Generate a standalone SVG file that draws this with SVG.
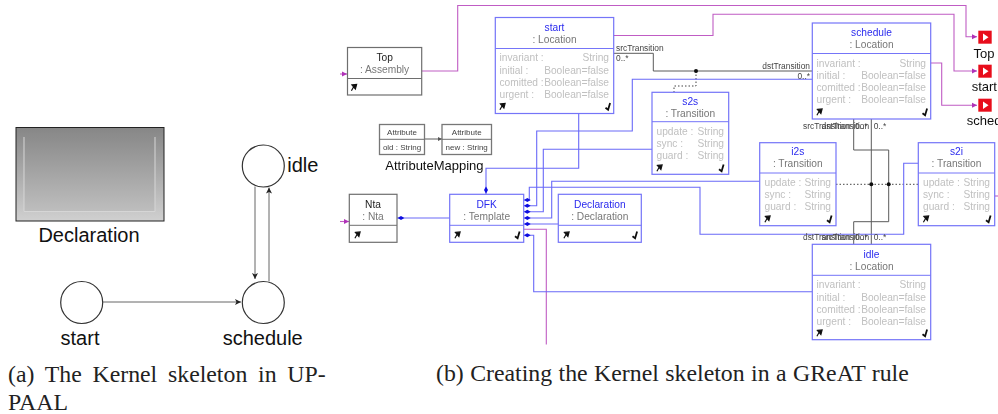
<svg xmlns="http://www.w3.org/2000/svg" width="998" height="414" viewBox="0 0 998 414">
<style>
text{font-family:"Liberation Sans",Arial,sans-serif}
.box{fill:#fff;stroke:#7474f8;stroke-width:1.2}
.gbox{fill:#fff;stroke:#6e6e6e;stroke-width:1.2}
.div{stroke:#7474f8;stroke-width:1;fill:none}
.gdiv{stroke:#6e6e6e;stroke-width:1;fill:none}
.t{font-size:10.2px;fill:#2a2aee;text-anchor:middle}
.tk{font-size:10.2px;fill:#222;text-anchor:middle}
.s{font-size:10.2px;fill:#777;text-anchor:middle}
.a{font-size:10.2px;fill:#c0c0c0}
.r{text-anchor:end}
.lbl{font-size:8.4px;fill:#444}
.bl{fill:none;stroke:#6a6af8;stroke-width:1.1}
.gl{fill:none;stroke:#5a5a5a;stroke-width:1}
.ml{fill:none;stroke:#c05cc4;stroke-width:1.1}
.dot{fill:none;stroke:#444;stroke-width:1;stroke-dasharray:1.5 2}
.big{font-size:13px;fill:#111}
.cap{font-family:"Liberation Serif","Times New Roman",serif;font-size:23.8px;fill:#222}
.la{font-size:20px;fill:#111}
.cir{fill:#fff;stroke:#333;stroke-width:1.2}
.ed{fill:none;stroke:#666;stroke-width:1}
.port{fill:#e8101c}
.at{font-size:8px;fill:#444;text-anchor:middle}
.ab{fill:#fff;stroke:#777;stroke-width:1.3}
</style>
<defs>
<linearGradient id="gr" x1="0" y1="0" x2="0" y2="1"><stop offset="0" stop-color="#8c8c8c"/><stop offset="1" stop-color="#bebebe"/></linearGradient>
<linearGradient id="fr" x1="0" y1="0" x2="0" y2="1"><stop offset="0" stop-color="#868686"/><stop offset="1" stop-color="#d0d0d0"/></linearGradient>
<filter id="soft" x="0" y="0" width="100%" height="100%"><feGaussianBlur stdDeviation="0.35"/></filter>
<path id="ne" d="M-2.6 3.2 L-.6-.2 M-2-2.6 L2.6-3 L1.4 1.4 Z" fill="#111" stroke="#111" stroke-width="1.2"/>
<path id="ck" d="M-3 1.2 L-.4 3.2 L1.6-3.6" fill="none" stroke="#111" stroke-width="1.8"/>
<polygon id="dh" points="-3.4,0 0,-2 3.4,0 0,2" fill="#1010e0"/>
<polygon id="dv" points="0,-3.4 2,0 0,3.4 -2,0" fill="#1010e0"/>
<marker id="ma" markerWidth="6" markerHeight="6" refX="5" refY="3" orient="auto" markerUnits="userSpaceOnUse"><path d="M0 .5 L5 3 L0 5.5 Z" fill="#b030b8"/></marker>
<marker id="ka" markerWidth="8" markerHeight="8" refX="6" refY="4" orient="auto" markerUnits="userSpaceOnUse"><path d="M0 1 L6 4 L0 7 L1.5 4 Z" fill="#222"/></marker>
<marker id="ga" markerWidth="5" markerHeight="5" refX="4" refY="2.5" orient="auto" markerUnits="userSpaceOnUse"><path d="M0 .5 L4 2.5 L0 4.5 Z" fill="#555"/></marker>
</defs>
<rect width="998" height="414" fill="#fff"/>

<g id="declaration-a">
<rect x="16" y="127.5" width="148" height="93.5" fill="url(#fr)" stroke="#222" stroke-width="1"/>
<rect x="24" y="136.5" width="131" height="75" fill="url(#gr)"/>
<path d="M24 137V211.5H155V137" fill="none" stroke="#d6d6d6" stroke-width="1"/>
<text class="la" x="89" y="241.5" text-anchor="middle">Declaration</text>
</g>
<g id="loc-idle"><circle class="cir" cx="263.3" cy="166" r="21"/><text class="la" x="287.3" y="171.5">idle</text></g>
<g id="loc-schedule"><circle class="cir" cx="263.3" cy="302.5" r="21"/><text class="la" x="262.7" y="345" text-anchor="middle">schedule</text></g>
<g id="loc-start"><circle class="cir" cx="81.7" cy="302.5" r="21"/><text class="la" x="80" y="345" text-anchor="middle">start</text></g>
<g id="uppaal-connectors">
<path class="ed" d="M103 302H241" marker-end="url(#ka)"/>
<path class="ed" d="M255 186.5V279" marker-end="url(#ka)"/>
<path class="ed" d="M269 281.5V187.5" marker-end="url(#ka)"/>
</g>
<text class="cap" x="8" y="381.5" style="word-spacing:4.8px">(a) The Kernel skeleton in UP-</text>
<text class="cap" x="8" y="410">PAAL</text>
<text class="cap" x="436" y="381" style="word-spacing:.5px">(b) Creating the Kernel skeleton in a GReAT rule</text>

<g id="rule" filter="url(#soft)">
<g id="connectors">
<path class="ml" d="M340 74H347" marker-end="url(#ma)"/>
<path class="ml" d="M340 221.5H349" marker-end="url(#ma)"/>
<path class="ml" d="M421.7 71H457.7V5.5H966V36.7H977" marker-end="url(#ma)"/>
<path class="ml" d="M613.7 35.5H713V14.3H954V71H977" marker-end="url(#ma)"/>
<path class="ml" d="M930.7 63H941.7V105.3H977" marker-end="url(#ma)"/>
<path class="ml" d="M523.7 229.3H546.3V344.5"/>
<path class="ml" d="M994.7 196H998"/>
<path class="gl" d="M613.7 53.3H653.3V71H812.3"/>
<path class="gl" d="M853.7 119V150H888.7V221.7H853.7V244.3"/>
<path class="gl" d="M871.3 119V244.3"/>
<path class="dot" d="M696 71V86H674V92.3"/>
<path class="dot" d="M836 184.3H918.3"/>
<circle cx="696" cy="71" r="2" fill="#111"/>
<circle cx="871.3" cy="184.3" r="2" fill="#111"/>
<circle cx="888.7" cy="184.3" r="2" fill="#111"/>
<path class="bl" d="M523.7 200H529.3V187.3H700V234.3H903.7V163.3H918.3"/>
<path class="bl" d="M523.7 205.7H536.7V131H632.3V79.3H812.3"/>
<path class="bl" d="M523.7 211.7H543.3V149.3H652"/>
<path class="bl" d="M523.7 218H551.7V181.3H759.7"/>
<path class="bl" d="M523.7 224H558.3"/>
<path class="bl" d="M523.7 235.3H533.7V291.7H812.3"/>
<path class="bl" d="M486 194V168.3H578.7V113.3"/>
<path class="bl" d="M397 218H449.7"/>
<path class="gl" d="M424.7 139H442" marker-end="url(#ga)"/>
<use href="#dh" x="527.3" y="200"/><use href="#dh" x="527.3" y="205.7"/><use href="#dh" x="527.3" y="211.7"/><use href="#dh" x="527.3" y="218"/><use href="#dh" x="527.3" y="224"/><use href="#dh" x="527.3" y="235.3"/>
<use href="#dh" x="401" y="218"/>
<use href="#dv" x="486" y="190"/>
<text class="lbl" x="616" y="51">srcTransition</text>
<text class="lbl" x="616" y="60.5">0..*</text>
<text class="lbl r" x="810" y="69">dstTransition</text>
<text class="lbl r" x="810" y="79">0..*</text>
<text class="lbl" x="803" y="128.5">srcTransition</text>
<text class="lbl" x="821.5" y="128.5">dstTransition</text>
<text class="lbl" x="855" y="128.5">0..*</text>
<text class="lbl" x="873.7" y="128.5">0..*</text>
<text class="lbl" x="803" y="239.5">dstTransition</text>
<text class="lbl" x="821.5" y="239.5">srcTransition</text>
<text class="lbl" x="855" y="239.5">0..*</text>
<text class="lbl" x="873.7" y="239.5">0..*</text>
</g>

<g id="node-top">
<rect class="gbox" x="347.5" y="47.5" width="74.2" height="47.5"/><path class="gdiv" d="M347.5 78.5H421.7"/>
<text class="tk" x="384.6" y="60.5">Top</text><text class="s" x="384.6" y="72.5">: Assembly</text>
<use href="#ne" x="354" y="87.5"/>
</g>
<g id="node-start">
<rect class="box" x="495.3" y="17.5" width="118.4" height="96"/><path class="div" d="M495.3 48.5H613.7"/>
<text class="t" x="554.5" y="30.5">start</text><text class="s" x="554.5" y="42.5">: Location</text>
<text class="a" x="499.5" y="61">invariant :</text><text class="a r" x="609" y="61">String</text>
<text class="a" x="499.5" y="73.5">initial :</text><text class="a r" x="609" y="73.5">Boolean=false</text>
<text class="a" x="499.5" y="85.5">comitted :</text><text class="a r" x="609" y="85.5">Boolean=false</text>
<text class="a" x="499.5" y="97.5">urgent :</text><text class="a r" x="609" y="97.5">Boolean=false</text>
<use href="#ne" x="502.5" y="106.5"/><use href="#ck" x="608.5" y="106.5"/>
</g>
<g id="node-schedule">
<rect class="box" x="812.3" y="23" width="118.4" height="96"/><path class="div" d="M812.3 53.5H930.7"/>
<text class="t" x="871.5" y="36">schedule</text><text class="s" x="871.5" y="48">: Location</text>
<text class="a" x="816.5" y="66.5">invariant :</text><text class="a r" x="926" y="66.5">String</text>
<text class="a" x="816.5" y="79">initial :</text><text class="a r" x="926" y="79">Boolean=false</text>
<text class="a" x="816.5" y="91">comitted :</text><text class="a r" x="926" y="91">Boolean=false</text>
<text class="a" x="816.5" y="103">urgent :</text><text class="a r" x="926" y="103">Boolean=false</text>
<use href="#ne" x="819.5" y="112"/><use href="#ck" x="925.5" y="112"/>
</g>
<g id="node-idle">
<rect class="box" x="812.3" y="244.3" width="118.4" height="95.4"/><path class="div" d="M812.3 275.3H930.7"/>
<text class="t" x="871.5" y="257.5">idle</text><text class="s" x="871.5" y="269.5">: Location</text>
<text class="a" x="816.5" y="288">invariant :</text><text class="a r" x="926" y="288">String</text>
<text class="a" x="816.5" y="300.5">initial :</text><text class="a r" x="926" y="300.5">Boolean=false</text>
<text class="a" x="816.5" y="312.5">comitted :</text><text class="a r" x="926" y="312.5">Boolean=false</text>
<text class="a" x="816.5" y="324.5">urgent :</text><text class="a r" x="926" y="324.5">Boolean=false</text>
<use href="#ne" x="819.5" y="333"/><use href="#ck" x="925.5" y="333"/>
</g>
<g id="node-s2s">
<rect class="box" x="652" y="92.3" width="76.7" height="82"/><path class="div" d="M652 121.7H728.7"/>
<text class="t" x="690.3" y="104.5">s2s</text><text class="s" x="690.3" y="116.5">: Transition</text>
<text class="a" x="656.5" y="135">update :</text><text class="a r" x="724" y="135">String</text>
<text class="a" x="656.5" y="147">sync :</text><text class="a r" x="724" y="147">String</text>
<text class="a" x="656.5" y="159">guard :</text><text class="a r" x="724" y="159">String</text>
<use href="#ne" x="659.5" y="168"/><use href="#ck" x="722" y="168"/>
</g>
<g id="node-i2s">
<rect class="box" x="759.7" y="142.7" width="76.3" height="83"/><path class="div" d="M759.7 173H836"/>
<text class="t" x="797.8" y="155">i2s</text><text class="s" x="797.8" y="167">: Transition</text>
<text class="a" x="764.5" y="186">update :</text><text class="a r" x="831" y="186">String</text>
<text class="a" x="764.5" y="198">sync :</text><text class="a r" x="831" y="198">String</text>
<text class="a" x="764.5" y="210">guard :</text><text class="a r" x="831" y="210">String</text>
<use href="#ne" x="767.5" y="219"/><use href="#ck" x="830" y="219"/>
</g>
<g id="node-s2i">
<rect class="box" x="918.3" y="142.7" width="76.4" height="83"/><path class="div" d="M918.3 173H994.7"/>
<text class="t" x="956.5" y="155">s2i</text><text class="s" x="956.5" y="167">: Transition</text>
<text class="a" x="923" y="186">update :</text><text class="a r" x="990" y="186">String</text>
<text class="a" x="923" y="198">sync :</text><text class="a r" x="990" y="198">String</text>
<text class="a" x="923" y="210">guard :</text><text class="a r" x="990" y="210">String</text>
<use href="#ne" x="926" y="219"/><use href="#ck" x="989" y="219"/>
</g>
<g id="node-dfk">
<rect class="box" x="449.7" y="194.3" width="74" height="48"/><path class="div" d="M449.7 225.3H523.7"/>
<text class="t" x="486.7" y="207.5">DFK</text><text class="s" x="486.7" y="219.5">: Template</text>
<use href="#ne" x="457.5" y="235"/><use href="#ck" x="518" y="235"/>
</g>
<g id="node-declaration">
<rect class="box" x="558.3" y="194.3" width="83" height="48"/><path class="div" d="M558.3 225.3H641.3"/>
<text class="t" x="599.8" y="207.5">Declaration</text><text class="s" x="599.8" y="219.5">: Declaration</text>
<use href="#ne" x="566.5" y="235"/><use href="#ck" x="635.5" y="235"/>
</g>
<g id="node-nta">
<rect class="gbox" x="349.3" y="194.3" width="47.7" height="48"/><path class="gdiv" d="M349.3 225.3H397"/>
<text class="tk" x="373" y="207.5">Nta</text><text class="s" x="373" y="219.5">: Nta</text>
<use href="#ne" x="357.5" y="235"/>
</g>
<g id="node-attribute-mapping">
<rect class="ab" x="379.5" y="124.5" width="45" height="30"/><path class="gdiv" d="M379.5 139.3H424.5"/>
<text class="at" x="402" y="134.5">Attribute</text><text class="at" x="402" y="150">old : String</text>
<rect class="ab" x="442" y="124.5" width="49.5" height="30"/><path class="gdiv" d="M442 139.3H491.5"/>
<text class="at" x="466.7" y="134.5">Attribute</text><text class="at" x="466.7" y="150">new : String</text>
<text class="big" x="385.3" y="170">AttributeMapping</text>
</g>
<g id="port-top"><rect class="port" x="978.3" y="30.7" width="13.4" height="13"/><path d="M983 33.5L988.5 37.2L983 41Z" fill="#fff"/><text class="big" x="984" y="57.5" text-anchor="middle">Top</text></g>
<g id="port-start"><rect class="port" x="978.3" y="64.7" width="13.4" height="13"/><path d="M983 67.5L988.5 71.2L983 75Z" fill="#fff"/><text class="big" x="971.7" y="91">start</text></g>
<g id="port-schedule"><rect class="port" x="978.3" y="98.7" width="13.4" height="13"/><path d="M983 101.5L988.5 105.2L983 109Z" fill="#fff"/><text class="big" x="966.7" y="124.5">schedule</text></g>
</g>
</svg>
